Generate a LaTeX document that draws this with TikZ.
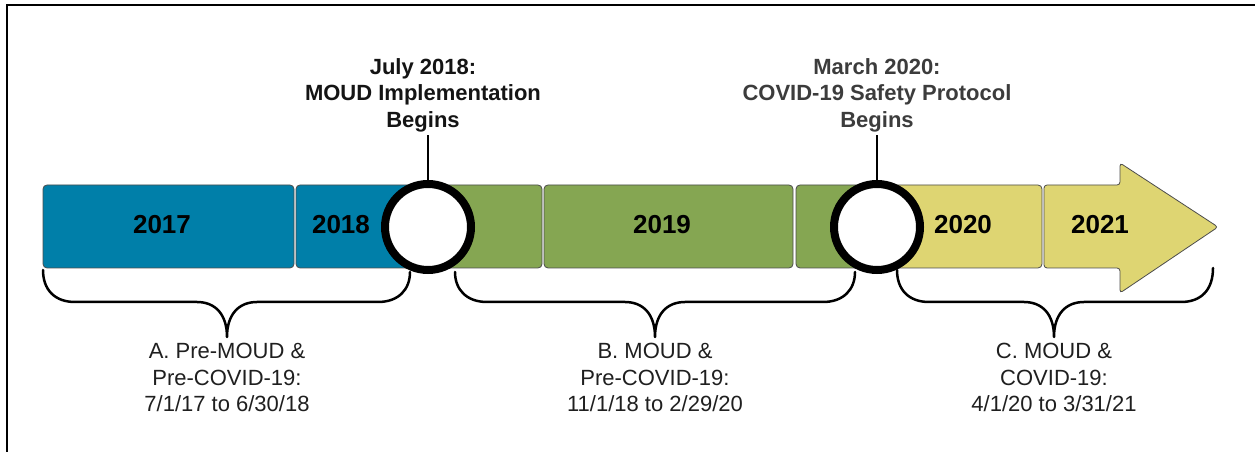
\documentclass[tikz,border=0pt]{standalone}
\usepackage{fontspec}
\setmainfont{Liberation Sans}
\usetikzlibrary{positioning}
\definecolor{moudblue}{RGB}{0,127,169}
\definecolor{moudgreen}{RGB}{133,166,82}
\definecolor{covidyellow}{RGB}{222,213,114}
\definecolor{labelgray}{RGB}{60,60,60}

\begin{document}
\begin{tikzpicture}[x=1pt, y=1pt,
    year/.style={draw=black!70, line width=0.8pt, rounded corners=4pt},
    yearlabel/.style={font=\fontsize{26}{30}\selectfont\bfseries, text=black},
    milestone/.style={circle, draw=black, line width=8pt, fill=white,
        minimum size=86pt, inner sep=0pt},
    event/.style={align=center, anchor=south, inner sep=2.5pt,
        font=\fontsize{22}{26.7}\selectfont\bfseries},
    period/.style={align=center, inner sep=2pt, text=black!88,
        font=\fontsize{22}{26.7}\selectfont},
    brace/.style={line width=2.5pt, line join=round, line cap=round}
]
\useasboundingbox (0,0) rectangle (1255,452);
% frame
\draw[line width=2.5pt] (7,0) -- (7,447) -- (1255,447);

% year bar
\draw[year, fill=moudblue] (43,184) rectangle (294,267);
\draw[year, fill=moudblue] (296,184) rectangle (430,267);
\draw[year, fill=moudgreen] (426,184) rectangle (542,267);
\draw[year, fill=moudgreen] (544,184) rectangle (793,267);
\draw[year, fill=moudgreen] (796,184) rectangle (879,267);
\draw[year, fill=covidyellow] (875,184) rectangle (1042,267);
\draw[year, fill=covidyellow, rounded corners=3pt]
    (1044,184) -- (1044,267) -- (1120,267) -- (1120,289) -- (1218,225)
    -- (1120,159) -- (1120,184) -- cycle;

\node (Y2017) [yearlabel] at (162,227) {2017};
\node (Y2018) [yearlabel] at (341,227) {2018};
\node (Y2019) [yearlabel] at (662,227) {2019};
\node (Y2020) [yearlabel] at (963,227) {2020};
\node (Y2021) [yearlabel] at (1100,227) {2021};

% milestones
\node (M1) [milestone] at (428,225) {};
\node (M2) [milestone] at (877,225) {};

\node (E1) [event, text=black!92] at (423,317) {July 2018:\\MOUD Implementation\\Begins};
\node (E2) [event, text=labelgray] at (877,317) {March 2020:\\COVID-19 Safety Protocol\\Begins};
\draw[line width=2.5pt] (M1.north) -- (M1.north |- E1.south);
\draw[line width=2.5pt] (M2.north) -- (M2.north |- E2.south);

% periods
\coordinate (TipA) at (227,115);
\coordinate (TipB) at (655,115);
\coordinate (TipC) at (1054,115);

\draw[brace] (43,182) .. controls (43,162) and (55,150) .. (75,150) -- (197,150)
    .. controls (215,150) and (227,138) .. (TipA)
    .. controls (227,138) and (239,150) .. (257,150) -- (378,150)
    .. controls (398,150) and (410,162) .. (410,180);
\draw[brace] (455,180) .. controls (455,162) and (467,150) .. (487,150) -- (625,150)
    .. controls (643,150) and (655,138) .. (TipB)
    .. controls (655,138) and (667,150) .. (685,150) -- (823,150)
    .. controls (843,150) and (855,162) .. (855,180);
\draw[brace] (897,182) .. controls (897,162) and (909,150) .. (929,150) -- (1024,150)
    .. controls (1042,150) and (1054,138) .. (TipC)
    .. controls (1054,138) and (1066,150) .. (1084,150) -- (1181,150)
    .. controls (1201,150) and (1213,162) .. (1213,184);

\node (PA) [period, below=4pt of TipA] {A. Pre-MOUD \&\\Pre-COVID-19:\\7/1/17 to 6/30/18};
\node (PB) [period, below=4pt of TipB] {B. MOUD \&\\Pre-COVID-19:\\11/1/18 to 2/29/20};
\node (PC) [period, below=4pt of TipC] {C. MOUD \&\\COVID-19:\\4/1/20 to 3/31/21};

\end{tikzpicture}
\end{document}
